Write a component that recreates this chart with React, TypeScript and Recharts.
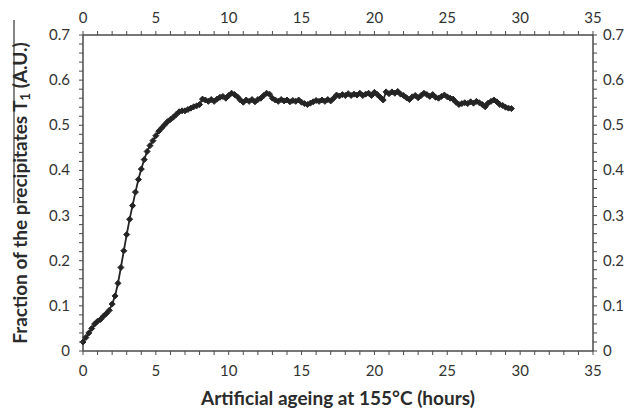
import React from 'react'
import { LineChart, Line, XAxis, YAxis } from 'recharts'

const FONT = 'Lato, "Open Sans", sans-serif'
const INK = '#242424'
const AXIS = '#4a4a4a'

// ageing time (hours)
const hours = [
  0, 0.2, 0.4, 0.6, 0.8, 1.0, 1.2, 1.4, 1.6, 1.8, 2.0, 2.2, 2.4, 2.6, 2.8, 3.0, 3.2, 3.4, 3.6, 3.8,
  4.0, 4.2, 4.4, 4.6, 4.8, 5.0, 5.2, 5.4, 5.6, 5.8, 6.0, 6.2, 6.4, 6.6, 6.8, 7.0, 7.2, 7.4, 7.6, 7.8,
  8.0, 8.2, 8.4, 8.6, 8.8, 9.0, 9.2, 9.4, 9.6, 9.8, 10.0, 10.2, 10.4, 10.6, 10.8, 11.0, 11.2, 11.4, 11.6, 11.8,
  12.0, 12.2, 12.4, 12.6, 12.8, 13.0, 13.2, 13.4, 13.6, 13.8, 14.0, 14.2, 14.4, 14.6, 14.8, 15.0, 15.2, 15.4, 15.6, 15.8,
  16.0, 16.2, 16.4, 16.6, 16.8, 17.0, 17.2, 17.4, 17.6, 17.8, 18.0, 18.2, 18.4, 18.6, 18.8, 19.0, 19.2, 19.4, 19.6, 19.8,
  20.0, 20.2, 20.4, 20.6, 20.8, 21.0, 21.2, 21.4, 21.6, 21.8, 22.0, 22.2, 22.4, 22.6, 22.8, 23.0, 23.2, 23.4, 23.6, 23.8,
  24.0, 24.2, 24.4, 24.6, 24.8, 25.0, 25.2, 25.4, 25.6, 25.8, 26.0, 26.2, 26.4, 26.6, 26.8, 27.0, 27.2, 27.4, 27.6, 27.8,
  28.0, 28.2, 28.4, 28.6, 28.8, 29.0, 29.2, 29.4,
]

// fraction of T1 precipitates (A.U.)
const fraction = [
  0.020, 0.030, 0.040, 0.050, 0.060, 0.066, 0.070, 0.077, 0.083, 0.090, 0.104, 0.122, 0.150, 0.185, 0.222, 0.258, 0.292, 0.322, 0.352, 0.380,
  0.403, 0.424, 0.442, 0.455, 0.466, 0.477, 0.487, 0.494, 0.501, 0.508, 0.513, 0.518, 0.524, 0.530, 0.532, 0.532, 0.535, 0.538, 0.541, 0.543,
  0.546, 0.558, 0.556, 0.553, 0.557, 0.553, 0.558, 0.562, 0.564, 0.560, 0.566, 0.571, 0.568, 0.563, 0.556, 0.551, 0.556, 0.553, 0.557, 0.552,
  0.557, 0.560, 0.566, 0.571, 0.569, 0.560, 0.556, 0.553, 0.557, 0.554, 0.556, 0.552, 0.555, 0.553, 0.556, 0.551, 0.548, 0.546, 0.549, 0.552,
  0.555, 0.553, 0.556, 0.553, 0.557, 0.554, 0.560, 0.567, 0.565, 0.568, 0.566, 0.570, 0.566, 0.569, 0.567, 0.571, 0.566, 0.569, 0.571, 0.566,
  0.573, 0.568, 0.562, 0.556, 0.574, 0.570, 0.574, 0.571, 0.575, 0.569, 0.566, 0.561, 0.557, 0.563, 0.566, 0.561, 0.566, 0.571, 0.568, 0.564,
  0.568, 0.562, 0.560, 0.564, 0.567, 0.563, 0.560, 0.558, 0.551, 0.546, 0.548, 0.550, 0.548, 0.552, 0.549, 0.553, 0.550, 0.546, 0.541, 0.549,
  0.553, 0.556, 0.552, 0.546, 0.544, 0.540, 0.538, 0.537,
]

const xTicks = [
  0, 1, 2, 3, 4, 5, 6, 7, 8, 9, 10, 11, 12, 13, 14, 15, 16, 17,
  18, 19, 20, 21, 22, 23, 24, 25, 26, 27, 28, 29, 30, 31, 32, 33, 34, 35,
]
const yTicks = [
  0, 0.02, 0.04, 0.06, 0.08, 0.1, 0.12, 0.14, 0.16, 0.18, 0.2, 0.22, 0.24, 0.26, 0.28, 0.3, 0.32, 0.34,
  0.36, 0.38, 0.4, 0.42, 0.44, 0.46, 0.48, 0.5, 0.52, 0.54, 0.56, 0.58, 0.6, 0.62, 0.64, 0.66, 0.68, 0.7,
]

const data = hours.map((h, i) => ({ h, v: fraction[i] }))

const isMajorX = (v: number) => v % 5 === 0
const isMajorY = (v: number) => Math.abs(v * 10 - Math.round(v * 10)) < 1e-6
const fmtY = (v: number) => (v === 0 ? '0' : v.toFixed(1))

const txt = { fontFamily: FONT, fontSize: 15, fill: '#333' }

function BottomTick({ x, y, payload }: any) {
  const v = payload.value
  return (
    <g>
      <line x1={x} y1={y} x2={x} y2={y + 4} stroke={AXIS} strokeWidth={1} />
      {isMajorX(v) && <text x={x} y={y + 25} textAnchor="middle" {...txt}>{v}</text>}
    </g>
  )
}

function TopTick({ x, y, payload }: any) {
  const v = payload.value
  return (
    <g>
      <line x1={x} y1={y} x2={x} y2={y - 4} stroke={AXIS} strokeWidth={1} />
      {isMajorX(v) && <text x={x} y={y - 12} textAnchor="middle" {...txt}>{v}</text>}
    </g>
  )
}

function LeftTick({ x, y, payload }: any) {
  const v = payload.value
  return (
    <g>
      <line x1={x} y1={y} x2={x - 4} y2={y} stroke={AXIS} strokeWidth={1} />
      {isMajorY(v) && <text x={x - 13} y={y + 5} textAnchor="end" {...txt}>{fmtY(v)}</text>}
    </g>
  )
}

function RightTick({ x, y, payload }: any) {
  const v = payload.value
  return (
    <g>
      <line x1={x} y1={y} x2={x + 4} y2={y} stroke={AXIS} strokeWidth={1} />
      {isMajorY(v) && <text x={x + 10} y={y + 5} textAnchor="start" {...txt}>{fmtY(v)}</text>}
    </g>
  )
}

function Diamond({ cx, cy, index }: any) {
  if (cx == null || cy == null) return <g key={index} />
  const r = 3
  return (
    <path
      key={index}
      d={`M${cx} ${cy - r}L${cx + r} ${cy}L${cx} ${cy + r}L${cx - r} ${cy}Z`}
      fill={INK}
      stroke={INK}
      strokeWidth={1}
    />
  )
}

function XTitle(props: any) {
  const vb = props.viewBox || { x: 83, y: 351, width: 510, height: 61 }
  return (
    <text x={vb.x + vb.width / 2} y={vb.y + 54} textAnchor="middle"
      fontFamily={FONT} fontSize={19} fontWeight="bold" fill="#2b2b2b">
      Artificial ageing at 155°C (hours)
    </text>
  )
}

function YTitle(props: any) {
  const vb = props.viewBox || { x: 0, y: 35, width: 83, height: 316 }
  const cx = 27
  const cy = vb.y + vb.height / 2
  return (
    <g>
      <line x1={14} y1={20} x2={14} y2={203} stroke="#333" strokeWidth={1.2} />
      <text x={cx} y={cy} transform={`rotate(-90 ${cx} ${cy})`} textAnchor="middle"
        fontFamily={FONT} fontSize={19} fontWeight="bold" fill="#2b2b2b">
        Fraction of the precipitates T<tspan fontSize={13} dy={3}>1</tspan><tspan dy={-3}> (A.U.)</tspan>
      </text>
    </g>
  )
}

export default function App() {
  return (
    <div style={{ position: 'absolute', left: 0, top: 0, width: 640, height: 412, background: '#fff' }}>
      <LineChart width={640} height={412} data={data} margin={{ top: 0, right: 0, bottom: 0, left: 0 }}>
        <XAxis xAxisId="bottom" dataKey="h" type="number" domain={[0, 35]} ticks={xTicks} interval={0}
          height={61} tickSize={0} tickMargin={0} tick={<BottomTick />}
          axisLine={{ stroke: AXIS, strokeWidth: 1.5 }} label={<XTitle />} />
        <XAxis xAxisId="top" orientation="top" dataKey="h" type="number" domain={[0, 35]} ticks={xTicks} interval={0}
          height={35} tickSize={0} tickMargin={0} tick={<TopTick />}
          axisLine={{ stroke: AXIS, strokeWidth: 1.5 }} />
        <YAxis yAxisId="left" dataKey="v" type="number" domain={[0, 0.7]} ticks={yTicks} interval={0}
          width={83} tickSize={0} tickMargin={0} tick={<LeftTick />}
          axisLine={{ stroke: AXIS, strokeWidth: 1.5 }} label={<YTitle />} />
        <YAxis yAxisId="right" dataKey="v" orientation="right" type="number" domain={[0, 0.7]} ticks={yTicks} interval={0}
          width={47} tickSize={0} tickMargin={0} tick={<RightTick />}
          axisLine={{ stroke: AXIS, strokeWidth: 1.5 }} />
        <Line xAxisId="top" yAxisId="right" dataKey="v" stroke="none" dot={false} activeDot={false}
          legendType="none" isAnimationActive={false} />
        <Line xAxisId="bottom" yAxisId="left" dataKey="v" type="linear" stroke={INK} strokeWidth={1.8}
          dot={<Diamond />} activeDot={false} isAnimationActive={false} />
      </LineChart>
    </div>
  )
}
